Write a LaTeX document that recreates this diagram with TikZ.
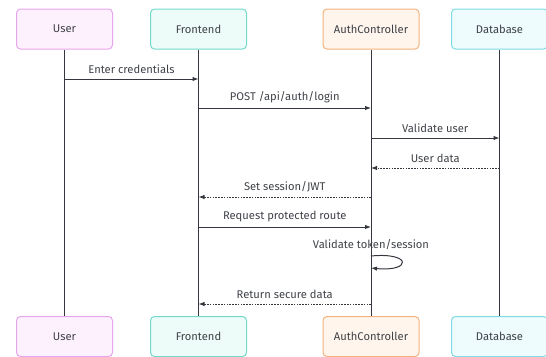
\documentclass[tikz,border=0pt]{standalone}
\usepackage{fontspec}
\setmainfont{Fira Sans}
\usetikzlibrary{arrows.meta}
\definecolor{txt}{HTML}{3F4248}
\definecolor{line}{HTML}{34373E}
\definecolor{uDraw}{HTML}{E8A5EE}\definecolor{uFill}{HTML}{FDF1FD}
\definecolor{fDraw}{HTML}{74D9CB}\definecolor{fFill}{HTML}{EEFCF9}
\definecolor{aDraw}{HTML}{F4B27C}\definecolor{aFill}{HTML}{FFF5EC}
\definecolor{dDraw}{HTML}{7FDCE5}\definecolor{dFill}{HTML}{EEFCFD}
\tikzset{
  actor/.style={draw, line width=1pt, rounded corners=4pt, minimum width=96pt,
    minimum height=40pt, font=\fontsize{11.2}{12}\selectfont, text=txt, inner sep=0pt},
  lifeline/.style={line, line width=1pt},
  msg/.style={line, line width=1pt, -{Latex[length=6pt,width=4.5pt]}},
  reply/.style={msg, dash pattern=on 1.6pt off 1.2pt},
  lbl/.style={font=\fontsize{11.2}{12}\selectfont, text=txt, inner sep=1pt},
}
\begin{document}
\begin{tikzpicture}[x=1pt,y=-1pt]
\useasboundingbox (0,0) rectangle (546,356);
% participant heads
\node[actor, draw=uDraw, fill=uFill] (uT) at (64.5,29) {User};
\node[actor, draw=fDraw, fill=fFill] (fT) at (198.5,29) {Frontend};
\node[actor, draw=aDraw, fill=aFill] (aT) at (371,29) {AuthController};
\node[actor, draw=dDraw, fill=dFill] (dT) at (499.5,29) {Database};
% participant feet
\node[actor, draw=uDraw, fill=uFill] (uB) at (64.5,336.5) {User};
\node[actor, draw=fDraw, fill=fFill] (fB) at (198.5,336.5) {Frontend};
\node[actor, draw=aDraw, fill=aFill] (aB) at (371,336.5) {AuthController};
\node[actor, draw=dDraw, fill=dFill] (dB) at (499.5,336.5) {Database};
% lifelines
\foreach \p in {u,f,a,d} \draw[lifeline] (\p T.south) -- (\p B.north);
% messages
\draw[msg] (uT.south |- 0,79) -- node[lbl, above=3.5pt] {Enter credentials} (fT.south |- 0,79);
\draw[msg] (fT.south |- 0,108) -- node[lbl, above=3.5pt] {POST /api/auth/login} (aT.south |- 0,108);
\draw[msg] (aT.south |- 0,138) -- node[lbl, above=3.5pt] {Validate user} (dT.south |- 0,138);
\draw[reply] (dT.south |- 0,168) -- node[lbl, above=3.5pt] {User data} (aT.south |- 0,168);
\draw[reply] (aT.south |- 0,197) -- node[lbl, above=3.5pt] {Set session/JWT} (fT.south |- 0,197);
\draw[msg] (fT.south |- 0,227) -- node[lbl, above=3.5pt] {Request protected route} (aT.south |- 0,227);
\node[lbl] (selfLbl) at (371,245) {Validate token/session};
\coordinate (sA) at (aT.south |- 0,256);
\coordinate (sB) at (aT.south |- 0,268);
\draw[msg] (sA) .. controls (412,252) and (412,272) .. (sB);
\draw[reply] (aT.south |- 0,304) -- node[lbl, above=3.5pt] {Return secure data} (fT.south |- 0,304);
\end{tikzpicture}
\end{document}
